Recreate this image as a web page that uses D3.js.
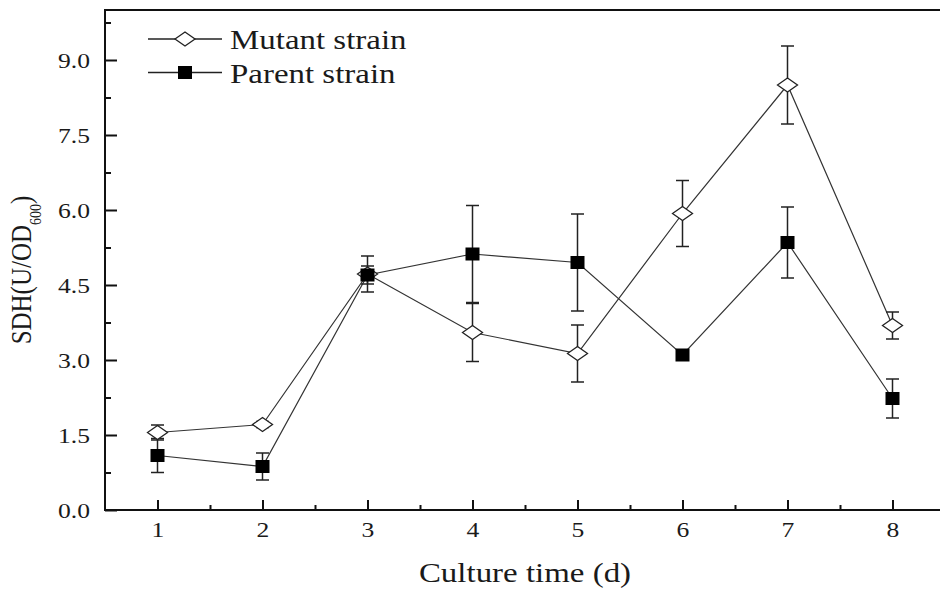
<!DOCTYPE html>
<html>
<head>
<meta charset="utf-8">
<script src="https://cdnjs.cloudflare.com/ajax/libs/d3/7.8.5/d3.min.js"></script>
<style>
html, body { margin: 0; background: #fff; overflow: hidden; }
svg { display: block; }
svg text { font-family: "Liberation Serif", "Times New Roman", serif; fill: #1a1a1a; }
</style>
</head>
<body>
<svg id="chart"></svg>
<script>
// culture time (d)
const days = [1, 2, 3, 4, 5, 6, 7, 8];
// SDH activity, U/OD600
const mutant    = [1.55, 1.71, 4.72, 3.55, 3.13, 5.93, 8.50, 3.69];
const mutantErr = [0.15, 0.06, 0.36, 0.58, 0.57, 0.66, 0.78, 0.27];
const parent    = [1.09, 0.87, 4.70, 5.12, 4.95, 3.10, 5.35, 2.23];
const parentErr = [0.34, 0.27, 0.18, 0.97, 0.97, 0.08, 0.71, 0.39];
const yTicks = [0, 1.5, 3.0, 4.5, 6.0, 7.5, 9.0];
const yMinor = [0.75, 2.25, 3.75, 5.25, 6.75, 8.25, 9.75];
const xMinor = [1.5, 2.5, 3.5, 4.5, 5.5, 6.5, 7.5];

const W = 940, H = 592;
const SX = 1.22; // the source picture is stretched sideways

const svg = d3.select('#chart').attr('width', W).attr('height', H);

const x = d3.scaleLinear().domain([0.5, 8.5]).range([105, 945]);
const y = d3.scaleLinear().domain([0, 10]).range([510, 10]);

// frame
svg.append('rect')
  .attr('x', x(0.5)).attr('y', y(10))
  .attr('width', x(8.5) - x(0.5)).attr('height', y(0) - y(10))
  .attr('fill', 'none').attr('stroke', '#111').attr('stroke-width', 2);

// axes, ticks pointing inward
const yAxis = svg.append('g').attr('transform', `translate(${x(0.5)},0)`)
  .call(d3.axisLeft(y).tickValues(yTicks).tickSize(-12).tickPadding(0).tickFormat(d3.format('.1f')));
svg.append('g').attr('transform', `translate(${x(0.5)},0)`)
  .call(d3.axisLeft(y).tickValues(yMinor).tickSize(-6).tickFormat(''));
const xAxis = svg.append('g').attr('transform', `translate(0,${y(0)})`)
  .call(d3.axisBottom(x).tickValues(days).tickSize(-10).tickPadding(0).tickFormat(d3.format('d')));
svg.append('g').attr('transform', `translate(0,${y(0)})`)
  .call(d3.axisBottom(x).tickValues(xMinor).tickSize(-5).tickFormat(''));

svg.selectAll('.domain').remove();
svg.selectAll('.tick line').attr('stroke', '#111').attr('stroke-width', 2);

yAxis.selectAll('.tick text')
  .attr('x', null).attr('dy', null)
  .attr('transform', `translate(-15,7) scale(${SX},1)`)
  .attr('text-anchor', 'end')
  .style('font-size', '21px');
xAxis.selectAll('.tick text')
  .attr('y', null).attr('dy', null)
  .attr('transform', `translate(0,27) scale(${SX},1)`)
  .attr('text-anchor', 'middle')
  .style('font-size', '21px');

// axis titles
svg.append('text')
  .attr('transform', `translate(${(x(0.5) + x(8.5)) / 2},582) scale(${SX},1)`)
  .attr('text-anchor', 'middle')
  .style('font-size', '27px')
  .text('Culture time (d)');

const yt = svg.append('text')
  .attr('transform', `translate(31,270) scale(${SX},1) rotate(-90)`)
  .attr('text-anchor', 'middle')
  .style('font-size', '25px');
yt.append('tspan').text('SDH(U/OD');
yt.append('tspan').attr('baseline-shift', 'sub').style('font-size', '14px').text('600');
yt.append('tspan').text(')');

// series
const series = [
  { name: 'Mutant strain', vals: mutant, err: mutantErr, shape: 'diamond' },
  { name: 'Parent strain', vals: parent, err: parentErr, shape: 'square' }
];

function marker(g, shape) {
  if (shape === 'diamond') {
    g.append('path').attr('d', 'M-10,0L0,-7L10,0L0,7Z')
      .attr('fill', '#fff').attr('stroke', '#222').attr('stroke-width', 1.3);
  } else {
    g.append('rect').attr('x', -7).attr('y', -6.5).attr('width', 14).attr('height', 13)
      .attr('fill', '#000');
  }
}

const line = d3.line().x(d => x(d[0])).y(d => y(d[1]));

series.forEach(s => {
  const pts = days.map((d, i) => [d, s.vals[i], s.err[i]]);
  svg.append('path').datum(pts).attr('d', line)
    .attr('fill', 'none').attr('stroke', '#333').attr('stroke-width', 1.2);
});

series.forEach(s => {
  const pts = days.map((d, i) => [d, s.vals[i], s.err[i]]);
  const eb = svg.append('g').attr('stroke', '#222').attr('stroke-width', 1.5)
    .selectAll('g').data(pts).join('g');
  eb.append('line').attr('x1', d => x(d[0])).attr('x2', d => x(d[0]))
    .attr('y1', d => y(d[1] + d[2])).attr('y2', d => y(d[1] - d[2]));
  eb.append('line').attr('x1', d => x(d[0]) - 6.5).attr('x2', d => x(d[0]) + 6.5)
    .attr('y1', d => y(d[1] + d[2])).attr('y2', d => y(d[1] + d[2]));
  eb.append('line').attr('x1', d => x(d[0]) - 6.5).attr('x2', d => x(d[0]) + 6.5)
    .attr('y1', d => y(d[1] - d[2])).attr('y2', d => y(d[1] - d[2]));
});

series.forEach(s => {
  const pts = days.map((d, i) => [d, s.vals[i]]);
  svg.append('g').selectAll('g').data(pts).join('g')
    .attr('transform', d => `translate(${x(d[0])},${y(d[1])})`)
    .each(function() { marker(d3.select(this), s.shape); });
});

// legend
const legend = svg.append('g');
series.forEach((s, i) => {
  const ly = 39 + i * 33.5;
  const g = legend.append('g').attr('transform', `translate(0,${ly})`);
  g.append('line').attr('x1', 148).attr('x2', 222).attr('y1', 0).attr('y2', 0)
    .attr('stroke', '#222').attr('stroke-width', 1.5);
  const m = g.append('g').attr('transform', 'translate(185,0)');
  marker(m, s.shape);
  g.append('text')
    .attr('transform', `translate(230,10) scale(${SX},1)`)
    .style('font-size', '27px')
    .text(s.name);
});
</script>
</body>
</html>
